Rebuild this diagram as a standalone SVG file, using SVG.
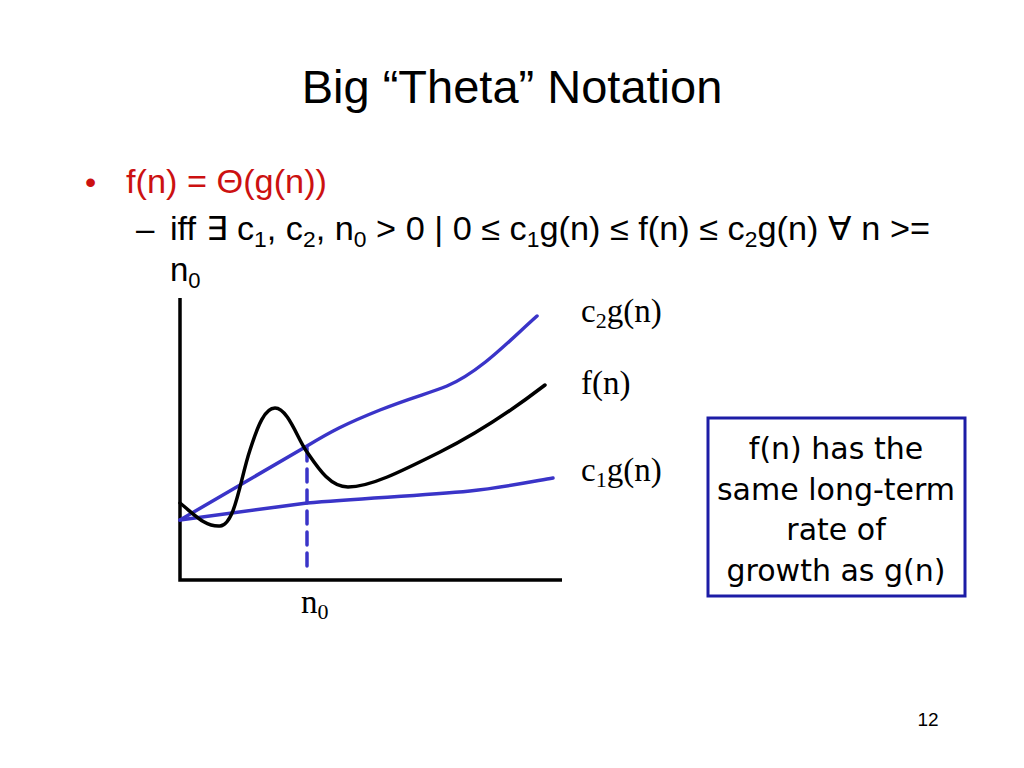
<svg xmlns="http://www.w3.org/2000/svg" width="1024" height="768" viewBox="0 0 1024 768">
<style>
.sans{font-family:"Liberation Sans",Arial,sans-serif;fill:#000}
.serif{font-family:"Liberation Serif","Times New Roman",serif;fill:#000;font-size:33px}
.box{font-family:"DejaVu Sans",Verdana,sans-serif;font-size:30px;fill:#000;text-anchor:middle}
.blue{fill:none;stroke:#3a34c8;stroke-width:3.5;stroke-linecap:round}
.blk{fill:none;stroke:#000;stroke-width:3.5;stroke-linecap:round}
.axis{fill:none;stroke:#000;stroke-width:3.5}
.red{fill:#cc1111}
</style>
<rect width="1024" height="768" fill="#fff"/>
<g id="title"><text class="sans" x="512" y="103" font-size="47" text-anchor="middle">Big “Theta” Notation</text></g>
<g id="bullets">
<text class="sans red" x="85" y="193" font-size="32" style="fill:#cc1111">•</text>
<text class="sans" x="126" y="193" font-size="34" style="fill:#cc1111" textLength="201" lengthAdjust="spacingAndGlyphs">f(n) = Θ(g(n))</text>
<text class="sans" x="136" y="240" font-size="33">–</text>
<text class="sans" x="170" y="240" font-size="33" textLength="760" lengthAdjust="spacingAndGlyphs">iff ∃ c<tspan font-size="22" dy="7">1</tspan><tspan dy="-7">, c</tspan><tspan font-size="22" dy="7">2</tspan><tspan dy="-7">, n</tspan><tspan font-size="22" dy="7">0</tspan><tspan dy="-7"> &gt; 0 | 0 ≤ c</tspan><tspan font-size="22" dy="7">1</tspan><tspan dy="-7">g(n) ≤ f(n) ≤ c</tspan><tspan font-size="22" dy="7">2</tspan><tspan dy="-7">g(n) ∀ n &gt;=</tspan></text>
<text class="sans" x="170" y="281" font-size="33">n<tspan font-size="22" dy="7">0</tspan></text>
</g>
<g id="connectors">
<path class="axis" d="M180 298 V580 H562"/>
<path class="blue" d="M307 448 V572" stroke-dasharray="13,8"/>
<path class="blue" d="M180 520 L307 446 C330 432 345 424 380 410 C410 398 430 393 447 386 C480 372 510 340 537 316"/>
<path class="blue" d="M180 520 L307 503 C360 498 420 496 470 491 C500 488 530 482 553 478"/>
<path class="blk" d="M180 503 C195 515 205 527 220 526 C235 525 240 480 250 450 C258 425 265 408 275 408 C288 408 298 440 307 452 C318 468 330 487 348 487 C370 487 400 472 440 452 C480 432 515 408 545 385"/>
</g>
<g id="labels">
<text class="serif" x="581" y="322">c<tspan font-size="22" dy="6">2</tspan><tspan dy="-6">g(n)</tspan></text>
<text class="serif" x="581" y="394">f(n)</text>
<text class="serif" x="581" y="481">c<tspan font-size="22" dy="6">1</tspan><tspan dy="-6">g(n)</tspan></text>
<text class="serif" x="301" y="613">n<tspan font-size="22" dy="6">0</tspan></text>
</g>
<g id="note">
<rect x="708" y="418" width="257" height="178" fill="#fff" stroke="#1c1ca6" stroke-width="3"/>
<text class="box" x="836" y="459">f(n) has the</text>
<text class="box" x="836" y="500">same long-term</text>
<text class="box" x="836" y="540">rate of</text>
<text class="box" x="836" y="581">growth as g(n)</text>
</g>
<g id="page"><text class="sans" x="928" y="726" font-size="19" text-anchor="middle">12</text></g>
</svg>
